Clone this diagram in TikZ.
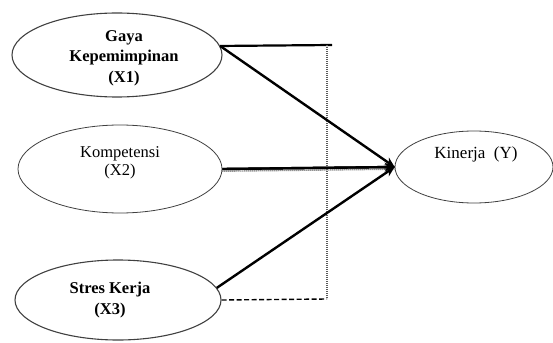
\documentclass[tikz,border=0pt]{standalone}
\usepackage{fontspec}
\setmainfont{Liberation Serif}
\usetikzlibrary{shapes.geometric,arrows.meta}
\begin{document}
\begin{tikzpicture}[x=1pt,y=-1pt,
  ell/.style={ellipse,draw=black!75,line width=0.8pt,inner sep=0pt,align=center},
  boldtxt/.style={font=\fontsize{16.5}{20.5}\selectfont\bfseries,align=center},
  regtxt/.style={font=\fontsize{16.5}{17.5}\selectfont,align=center},
  arr/.style={line width=2.4pt,-{Stealth[length=10pt,width=9pt]}},
  dotln/.style={draw=black!65,line width=2pt,dash pattern=on 1pt off 1pt},
  dashln/.style={line width=1.4pt,dash pattern=on 5pt off 2.5pt}]
\useasboundingbox (0,0) rectangle (553,342);
\node[ell,line width=1.1pt,minimum width=210,minimum height=84] (x1) at (117,55) {};
\node[boldtxt] (x1lab) at (124,58) {Gaya\\Kepemimpinan\\(X1)};
\node[ell,minimum width=204,minimum height=88] (x2) at (120,169) {};
\node[regtxt] (x2lab) at (120,163) {Kompetensi\\(X2)};
\node[ell,line width=1.1pt,minimum width=206,minimum height=80] (x3) at (118,300) {};
\node[boldtxt] (x3lab) at (110,300) {Stres Kerja\\(X3)};
\node[ell,minimum width=158,minimum height=72] (y) at (474,167) {};
\node[regtxt,font=\fontsize{17}{18}\selectfont] (ylab) at (476,154) {Kinerja\ \ (Y)};
\coordinate (tr) at (332,45);
\coordinate (ct) at (327,45);
\coordinate (cb) at (327,299);
% frame lines
\draw[line width=2.2pt] (x1.5) -- (tr);
\draw[dotln] (ct) -- (cb);
\draw[dashln] (x3.east) -- (cb);
% arrows
\draw[arr] (x1.5) -- (y.west);
\draw[line width=2.4pt] (x2.east) -- (y.west);
\draw[dotln,line width=1.4pt] ([yshift=-2.2pt]x2.east) -- ([yshift=-2.2pt]y.west);
\draw[arr] (x2.east) -- (y.west);
\draw[arr] (x3.7) -- (y.west);
\end{tikzpicture}
\end{document}
